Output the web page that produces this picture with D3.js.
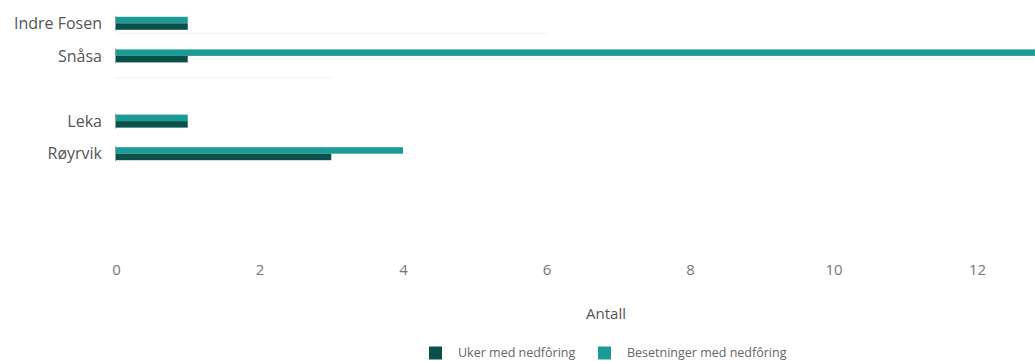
<!DOCTYPE html>
<html>
<head>
<meta charset="utf-8">
<script src="https://cdn.jsdelivr.net/npm/d3@7"></script>
<style>
  body { margin: 0; background: #fff; }
  text { font-family: "Open Sans", sans-serif; }
</style>
</head>
<body>
<div id="chart"></div>
<script>
// data
const categories = ["Indre Fosen", "Snåsa", "", "Leka", "Røyrvik"];
const ukerValues = [1, 1, null, 1, 3];
const besetningerValues = [1, 14, null, 1, 4];
const faintValues = [6, 3, null, null, null]; // faint leftover lines in the picture
const xTicks = [0, 2, 4, 6, 8, 10, 12];
const seriesNames = ["Uker med nedfôring", "Besetninger med nedfôring"];

const width = 1035;
const height = 361;
const colorDark = "#0b4f4a";
const colorTeal = "#1b9b95";

const svg = d3.select("#chart")
  .append("svg")
  .attr("width", width)
  .attr("height", height);

const x = d3.scaleLinear().domain([0, 12]).range([116, 977]);
const y = d3.scaleBand().domain(d3.range(categories.length)).range([7, 170]).paddingInner(0);

const barH = 6.5;

// faint lines
svg.append("g").selectAll("line")
  .data(faintValues.map((v, i) => ({ v, i })).filter(d => d.v != null))
  .enter().append("line")
  .attr("x1", x(0))
  .attr("x2", d => x(d.v))
  .attr("y1", d => y(d.i) + y.bandwidth() / 2 + 10 + d.i * 12)
  .attr("y2", d => y(d.i) + y.bandwidth() / 2 + 10 + d.i * 12)
  .attr("stroke", "#eef6f5")
  .attr("stroke-width", 1.2);

const rows = svg.append("g").selectAll("g")
  .data(categories.map((c, i) => ({ c, i, u: ukerValues[i], b: besetningerValues[i] })))
  .enter().append("g")
  .attr("transform", d => `translate(0, ${y(d.i) + y.bandwidth() / 2})`);

rows.filter(d => d.b != null).append("rect")
  .attr("x", x(0))
  .attr("y", -barH)
  .attr("width", d => x(d.b) - x(0))
  .attr("height", barH)
  .attr("fill", colorTeal);

rows.filter(d => d.u != null).append("rect")
  .attr("x", x(0))
  .attr("y", 0)
  .attr("width", d => x(d.u) - x(0))
  .attr("height", barH)
  .attr("fill", colorDark);

rows.filter(d => d.u != null).append("line")
  .attr("x1", x(0) - 0.5).attr("x2", x(0) - 0.5)
  .attr("y1", -barH - 1).attr("y2", barH + 1)
  .attr("stroke", "#999")
  .attr("stroke-width", 1);

rows.append("text")
  .attr("x", 102)
  .attr("dy", "0.35em")
  .attr("text-anchor", "end")
  .attr("font-size", 16)
  .attr("fill", "#555")
  .text(d => d.c);

// x axis
const xAxis = svg.append("g")
  .attr("transform", "translate(0, 270)")
  .call(d3.axisBottom(x).tickValues(xTicks).tickSize(0).tickPadding(0));
xAxis.select(".domain").remove();
xAxis.selectAll("text")
  .attr("font-size", 15)
  .attr("fill", "#777")
  .attr("dy", "0.35em")
  .style("font-family", "Open Sans, sans-serif");

svg.append("text")
  .attr("x", 606)
  .attr("y", 314)
  .attr("dy", "0.35em")
  .attr("text-anchor", "middle")
  .attr("font-size", 15)
  .attr("fill", "#555")
  .text("Antall");

// legend
const legendX = [429, 598];
const legend = svg.append("g").selectAll("g")
  .data(seriesNames)
  .enter().append("g")
  .attr("transform", (d, i) => `translate(${legendX[i]}, 353)`);

legend.append("rect")
  .attr("x", 0)
  .attr("y", -6.5)
  .attr("width", 13)
  .attr("height", 13)
  .attr("fill", (d, i) => i === 0 ? colorDark : colorTeal);

legend.append("text")
  .attr("x", 29)
  .attr("dy", "0.35em")
  .attr("font-size", 12.5)
  .attr("fill", "#666")
  .text(d => d);
</script>
</body>
</html>
